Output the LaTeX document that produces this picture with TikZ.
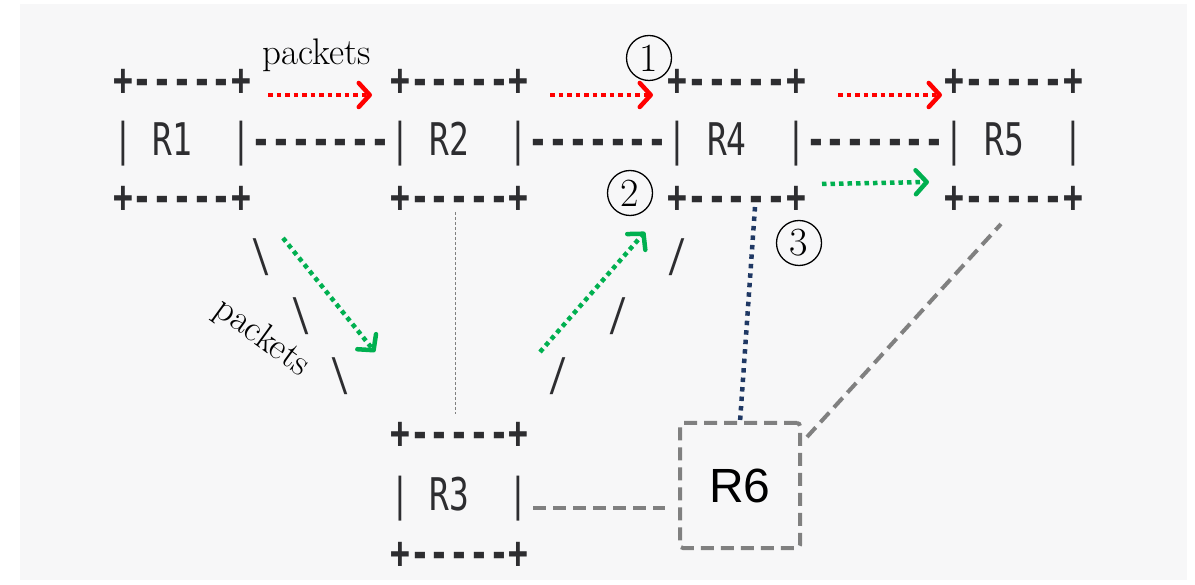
\documentclass[tikz,border=0pt]{standalone}
\usepackage{fontspec}
\newfontfamily\asciifont{DejaVu Sans Mono}
\newfontfamily\rsixfont{Liberation Sans}
\usetikzlibrary{arrows.meta}
\definecolor{bg}{RGB}{247,247,248}
\definecolor{ascii}{RGB}{45,45,48}
\definecolor{pred}{RGB}{255,0,0}
\definecolor{pgreen}{RGB}{0,176,80}
\definecolor{navy}{RGB}{31,56,100}
\definecolor{lgray}{RGB}{128,128,128}
\newcommand\hy{\mbox{\bfseries -}}
\newcommand\pl{\mbox{\bfseries +}}
\newcommand\ascnode[4]{\node[asc] (#1) at ({113.1+19.8*(#2)},{#3+13}) {\scalebox{0.73}[1]{\fontsize{45}{45}\asciifont #4}};}
\tikzset{
  asc/.style={anchor=base west, inner sep=0pt, outer sep=0pt, text=ascii},
  flow/.style={line width=4.5pt, dash pattern=on 4.5pt off 4pt,
    -{Straight Barb[length=11pt,width=24pt,line width=4.5pt,round]}},
  redflow/.style={flow, draw=pred},
  greenflow/.style={flow, draw=pgreen},
  graylink/.style={draw=lgray, line width=4pt, dash pattern=on 13pt off 7pt},
  navylink/.style={draw=navy, line width=4.5pt, dash pattern=on 4.5pt off 5pt},
  thinlink/.style={draw=lgray, line width=1pt, dash pattern=on 3pt off 2pt},
  circnum/.style={circle, draw=black, line width=1.3pt, minimum size=45pt, inner sep=0pt, font=\fontsize{40}{40}\selectfont},
  lbl/.style={font=\fontsize{37}{37}\selectfont, inner sep=0pt},
  r6box/.style={draw=lgray, line width=4pt, dash pattern=on 13pt off 7pt, rounded corners=3pt,
    minimum width=120pt, minimum height=125pt, inner sep=0pt, font=\fontsize{48}{48}\rsixfont},
}
\begin{document}
\begin{tikzpicture}[x=1pt,y=-1pt]
\useasboundingbox (0,0) rectangle (1195,585);
\fill[white] (0,0) rectangle (1195,585);
\fill[bg] (20,4) rectangle (1187,580);

% ASCII routers
\ascnode{r1t}{0}{83}{\pl\hy\hy\hy\hy\hy\pl}
\ascnode{r2t}{14}{83}{\pl\hy\hy\hy\hy\hy\pl}
\ascnode{r4t}{28}{83}{\pl\hy\hy\hy\hy\hy\pl}
\ascnode{r5t}{42}{83}{\pl\hy\hy\hy\hy\hy\pl}
\ascnode{r1}{0}{143}{|~R1~~|}
\ascnode{l12}{7}{143}{\hy\hy\hy\hy\hy\hy\hy}
\ascnode{r2}{14}{143}{|~R2~~|}
\ascnode{l24}{21}{143}{\hy\hy\hy\hy\hy\hy\hy}
\ascnode{r4}{28}{143}{|~R4~~|}
\ascnode{l45}{35}{143}{\hy\hy\hy\hy\hy\hy\hy}
\ascnode{r5}{42}{143}{|~R5~~|}
\ascnode{r1b}{0}{200}{\pl\hy\hy\hy\hy\hy\pl}
\ascnode{r2b}{14}{200}{\pl\hy\hy\hy\hy\hy\pl}
\ascnode{r4b}{28}{200}{\pl\hy\hy\hy\hy\hy\pl}
\ascnode{r5b}{42}{200}{\pl\hy\hy\hy\hy\hy\pl}
\ascnode{sa}{7}{259}{\textbackslash}
\ascnode{sb}{28}{259}{/}
\ascnode{sc}{9}{318}{\textbackslash}
\ascnode{sd}{25}{318}{/}
\ascnode{se}{11}{378}{\textbackslash}
\ascnode{sf}{22}{378}{/}
\ascnode{r3t}{14}{435}{\pl\hy\hy\hy\hy\hy\pl}
\ascnode{r3}{14}{497}{|~R3~~|}
\ascnode{r3b}{14}{555}{\pl\hy\hy\hy\hy\hy\pl}

% R6
\node[r6box] (r6) at (740,485.5) {R6};

% labels
\node[lbl, anchor=base west] (pk1) at (262,65) {packets};
\node[lbl, rotate=-36] (pk2) at (262,338) {packets};
\node[circnum] (c1) at (649,58) {1};
\node[circnum] (c2) at (630,193) {2};
\node[circnum] (c3) at (799,243) {3};

% coordinates for connector ends
\coordinate (ra1) at (268,95);  \coordinate (rb1) at (372,95);
\coordinate (ra2) at (550,95);  \coordinate (rb2) at (653,95);
\coordinate (ra3) at (838,95);  \coordinate (rb3) at (942,95);
\coordinate (ga1) at (283,238); \coordinate (gb1) at (375,352);
\coordinate (ga2) at (540,352); \coordinate (gb2) at (645,232);
\coordinate (ga3) at (822,184); \coordinate (gb3) at (929,182);
\coordinate (n4) at (755,207);  \coordinate (n6) at (740,422);
\coordinate (g3) at (533,508);  \coordinate (g6) at (665,508);
\coordinate (g6b) at (807,437); \coordinate (g5) at (1001,224);
\coordinate (t2) at (455,212);  \coordinate (t3) at (455,414);

% connectors
\draw[thinlink] (t2) -- (t3);
\draw[navylink] (n4) -- (n6);
\draw[graylink] (g3) -- (g6);
\draw[graylink] (g6b) -- (g5);
\draw[redflow] (ra1) -- (rb1);
\draw[redflow] (ra2) -- (rb2);
\draw[redflow] (ra3) -- (rb3);
\draw[greenflow] (ga1) -- (gb1);
\draw[greenflow] (ga2) -- (gb2);
\draw[greenflow] (ga3) -- (gb3);
\end{tikzpicture}
\end{document}
